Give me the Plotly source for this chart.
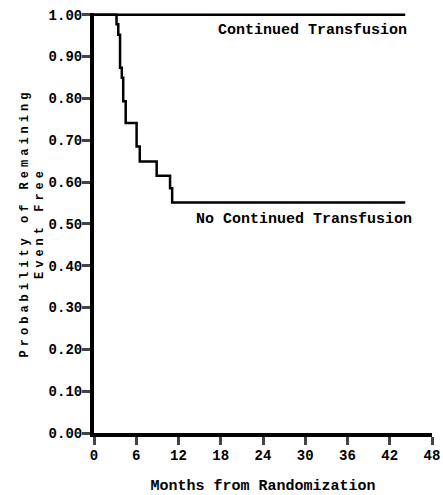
import plotly.graph_objects as go

# Kaplan-Meier steps (months, probability event free)
meses_cont = [0, 44.2]
prob_cont = [1.0, 1.0]

meses_sem = [0, 3.2, 3.45, 3.7, 3.95, 4.15, 4.5, 6.05, 6.5, 8.9, 10.8, 11.1, 44.2]
prob_sem = [1.0, 0.977, 0.952, 0.873, 0.849, 0.793, 0.741, 0.685, 0.649, 0.615, 0.585, 0.551, 0.551]

x_ticks = [0, 6, 12, 18, 24, 30, 36, 42, 48]
y_ticks = [0.0, 0.1, 0.2, 0.3, 0.4, 0.5, 0.6, 0.7, 0.8, 0.9, 1.0]

fonte = 'Courier New, Liberation Mono, monospace'

fig = go.Figure()

fig.add_trace(go.Scatter(x=meses_cont, y=prob_cont, mode='lines', line_shape='hv',
                         line=dict(color='black', width=2.5)))
fig.add_trace(go.Scatter(x=meses_sem, y=prob_sem, mode='lines', line_shape='hv',
                         line=dict(color='black', width=2.5)))

fig.add_annotation(x=31.0, y=0.961, text='Continued Transfusion', showarrow=False,
                   font=dict(family=fonte, size=15, color='black', weight='bold'))
fig.add_annotation(x=29.8, y=0.51, text='No Continued Transfusion', showarrow=False,
                   font=dict(family=fonte, size=15, color='black', weight='bold'))

fig.update_layout(
    width=443, height=495,
    margin=dict(l=94, r=11, t=13, b=62),
    plot_bgcolor='white', paper_bgcolor='white',
    showlegend=False,
    font=dict(family=fonte, color='black', weight='bold'),
)

fig.update_xaxes(
    range=[0, 48], tickvals=x_ticks, ticks='outside', ticklen=8, tickwidth=3,
    showline=True, linewidth=4, linecolor='black', showgrid=False, zeroline=False,
    automargin=False, ticklabelstandoff=-2,
    tickfont=dict(size=14, family=fonte, weight='bold'),
    title=dict(text='Months from Randomization', standoff=18,
               font=dict(size=15, family=fonte, weight='bold')),
)
fig.update_yaxes(
    range=[0, 1.004], tickvals=y_ticks, tickformat='.2f', ticks='outside', ticklen=8, tickwidth=3,
    showline=True, linewidth=4, linecolor='black', showgrid=False, zeroline=False,
    automargin=False, ticklabelstandoff=-3,
    tickfont=dict(size=14, family=fonte, weight='bold'),
    title=dict(text='<span style="letter-spacing:4px">Probability of Remaining<br>Event Free</span>',
               standoff=3, font=dict(size=12, family=fonte, weight='bold')),
)

# la page a une marge de 8px par défaut, on l'enlève
fig.write_html("out.html", config={'displayModeBar': False},
               post_script="document.body.style.margin='0';")
